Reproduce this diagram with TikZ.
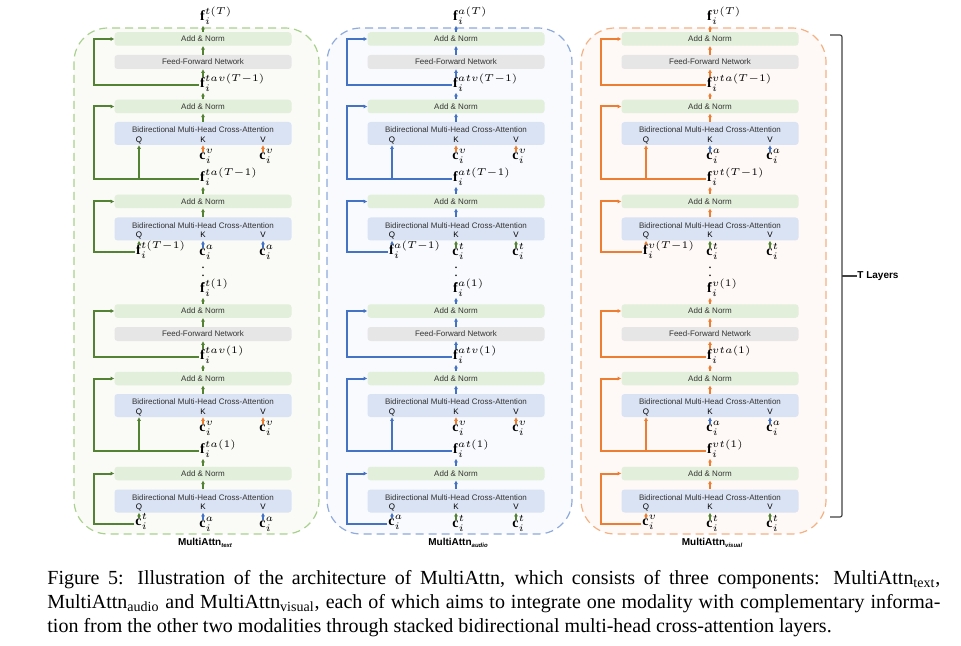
\documentclass[tikz,border=0pt]{standalone}
\usepackage{fontspec}
\setmainfont{Liberation Serif}
\setsansfont{Liberation Sans}
\usepackage{amsmath}
\usetikzlibrary{arrows.meta}

\definecolor{colt}{HTML}{548235}
\definecolor{cola}{HTML}{4472C4}
\definecolor{colv}{HTML}{ED7D31}
\definecolor{bordt}{HTML}{A9D18E}
\definecolor{borda}{HTML}{8FAADC}
\definecolor{bordv}{HTML}{F4B183}
\definecolor{fillt}{HTML}{FAFBF6}
\definecolor{filla}{HTML}{F8FAFE}
\definecolor{fillv}{HTML}{FEF9F7}
\definecolor{normgreen}{HTML}{E2EFDA}
\definecolor{attnblue}{HTML}{DAE3F3}
\definecolor{ffngray}{HTML}{E7E6E6}

\newcommand\fvec[1]{$\mathbf{f}_{\smash{\rlap{$\scriptstyle i$}}}^{\smash{\rlap{$\scriptstyle #1$}}}$}
\newcommand\cvec[1]{$\mathbf{c}_{\smash{\rlap{$\scriptstyle i$}}}^{\smash{\rlap{$\scriptstyle #1$}}}$}

\begin{document}
\begin{tikzpicture}[x=0.5pt,y=-0.5pt,
    blk/.style={rounded corners=1.5pt,minimum width=88.5pt,inner sep=0pt,
        font=\sffamily\fontsize{4}{5}\selectfont,text=black!80},
    normbox/.style={blk,fill=normgreen,minimum height=6.75pt},
    ffnbox/.style={blk,fill=ffngray,minimum height=7pt},
    attnbox/.style={blk,fill=attnblue,minimum height=11.5pt,text height=2.9pt,text depth=3.5pt},
    qkv/.style={font=\sffamily\fontsize{4}{5}\selectfont,inner sep=0pt},
    vec/.style={font=\fontsize{7}{8}\selectfont,inner sep=0.3pt},
    flow/.style={-{Triangle[length=1.7pt,width=1.7pt]},line width=0.6pt},
    skip/.style={flow,line width=1pt},
    panel/.style={dash pattern=on 4pt off 2.5pt,line width=0.6pt,rounded corners=17pt},
    paneltitle/.style={font=\sffamily\bfseries\fontsize{5}{6}\selectfont,inner sep=0pt}]
    \useasboundingbox (0,0) rectangle (961,646);
    %% the three stacks
    \foreach \m/\b/\u/\cx/\name in {t/a/v/203/text,a/t/v/456/audio,v/t/a/710/visual} {
        \draw[panel,draw=bord\m,fill=fill\m] (\cx-129,28) rectangle (\cx+116,534);
        \node[paneltitle] (\m-title) at (\cx+2,543) {MultiAttn\raisebox{-1.1pt}{\fontsize{3}{3}\selectfont\itshape\name}};
        \node[vec] (\m-dots) at (\cx,270) {$\vdots$};
        %% layer T on top, layer 1 below
        \foreach \l/\dy/\k/\outv/\inv in {T/0/T-1/{\fvec{\m(T)}}/{\fvec{\m(T-1)}},1/272/1/{\fvec{\m(1)}}/{\cvec{\m}}} {
            \node[vec] (\m\l-out) at (\cx,18+\dy) {\outv};
            \node[normbox] (\m\l-n1) at (\cx,39+\dy) {Add \& Norm};
            \node[ffnbox] (\m\l-ffn) at (\cx,62+\dy) {Feed-Forward Network};
            \node[vec] (\m\l-h1) at (\cx,85+\dy) {\fvec{\m\b\u(\k)}};
            \node[normbox] (\m\l-n2) at (\cx,106.5+\dy) {Add \& Norm};
            \node[attnbox] (\m\l-b2) at (\cx,133.5+\dy) {Bidirectional Multi-Head Cross-Attention};
            \node[qkv] (\m\l-q2) at (\cx-64,140+\dy) {Q};
            \node[qkv] (\m\l-k2) at (\cx,140+\dy) {K};
            \node[qkv] (\m\l-v2) at (\cx+60,140+\dy) {V};
            \node[vec] (\m\l-ck2) at (\cx,158+\dy) {\cvec{\u}};
            \node[vec] (\m\l-cv2) at (\cx+60,158+\dy) {\cvec{\u}};
            \node[vec] (\m\l-g2) at (\cx,179+\dy) {\fvec{\m\b(\k)}};
            \node[normbox] (\m\l-n3) at (\cx,201.5+\dy) {Add \& Norm};
            \node[attnbox] (\m\l-b3) at (\cx,229+\dy) {Bidirectional Multi-Head Cross-Attention};
            \node[qkv] (\m\l-q3) at (\cx-64,235+\dy) {Q};
            \node[qkv] (\m\l-k3) at (\cx,235+\dy) {K};
            \node[qkv] (\m\l-v3) at (\cx+60,235+\dy) {V};
            \node[vec] (\m\l-in3) at (\cx-64,252+\dy) {\inv};
            \node[vec] (\m\l-ck3) at (\cx,254+\dy) {\cvec{\b}};
            \node[vec] (\m\l-cv3) at (\cx+60,254+\dy) {\cvec{\b}};
            %% main flow
            \draw[flow,color=col\m] (\m\l-n1) -- (\m\l-out);
            \draw[flow,color=col\m] (\m\l-ffn) -- (\m\l-n1);
            \draw[flow,color=col\m] (\m\l-h1) -- (\m\l-ffn);
            \draw[flow,color=col\m] (\m\l-n2) -- (\m\l-h1);
            \draw[flow,color=col\m] (\m\l-b2) -- (\m\l-n2);
            \draw[flow,color=col\m] (\m\l-n3) -- (\m\l-g2);
            \draw[flow,color=col\m] (\m\l-b3) -- (\m\l-n3);
            \draw[flow,color=col\m] (\m\l-in3) -- (\m\l-in3 |- \m\l-b3.south);
            %% keys and values
            \draw[flow,color=col\u] (\m\l-ck2) -- (\m\l-ck2 |- \m\l-b2.south);
            \draw[flow,color=col\u] (\m\l-cv2) -- (\m\l-cv2 |- \m\l-b2.south);
            \draw[flow,color=col\b] (\m\l-ck3) -- (\m\l-ck3 |- \m\l-b3.south);
            \draw[flow,color=col\b] (\m\l-cv3) -- (\m\l-cv3 |- \m\l-b3.south);
            %% residual paths
            \draw[skip,color=col\m] (\m\l-h1.west) -| ([xshift=-10.25pt]\m\l-n1.west) -- (\m\l-n1.west);
            \draw[skip,color=col\m] (\m\l-g2.west) -| ([xshift=-10.25pt]\m\l-n2.west) -- (\m\l-n2.west);
            \draw[skip,color=col\m] (\m\l-q2 |- \m\l-g2.west) -- (\m\l-q2 |- \m\l-b2.south);
            \draw[skip,color=col\m] (\m\l-in3.west) -| ([xshift=-10.25pt]\m\l-n3.west) -- (\m\l-n3.west);
        }
    }
    %% layer bracket
    \node[font=\sffamily\bfseries\fontsize{5}{6}\selectfont,anchor=west,inner sep=0pt] (layers) at (857,276) {T Layers};
    \draw[line width=0.6pt,color=black!75,rounded corners=1pt] (830,35) -- (842,35) -- (842,517) -- (830,517);
    \draw[line width=0.6pt,color=black!75] (842,276) -- (layers.west);
    %% caption
    \node[anchor=north west,text width=446.5pt,align=justify,inner sep=0pt,
        font=\fontsize{10}{12}\selectfont] (caption) at (47,570)
        {Figure 5: Illustration of the architecture of MultiAttn, which consists of three components: MultiAttn\textsubscript{text},\linebreak
        MultiAttn\textsubscript{audio} and MultiAttn\textsubscript{visual}, each of which aims to integrate one modality with complementary informa-\linebreak
        tion from the other two modalities through stacked bidirectional multi-head cross-attention layers.};
\end{tikzpicture}
\end{document}
